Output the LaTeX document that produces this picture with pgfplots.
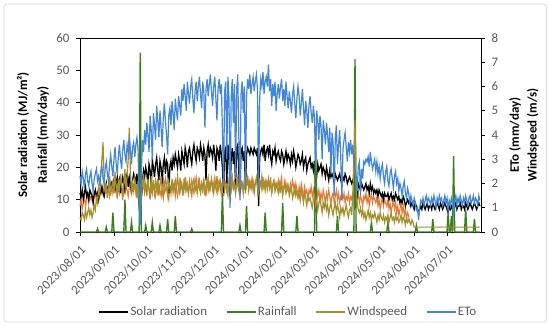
\documentclass[border=0pt]{standalone}
\usepackage{pgfplots}
\pgfplotsset{compat=1.18}
\usepackage{pgfplotstable}
\usepackage{fontspec}
\setmainfont{Carlito}
\definecolor{tickgray}{HTML}{595959}
\definecolor{rainc}{HTML}{3A7D22}
\definecolor{windc}{HTML}{A38F2B}
\definecolor{etoc}{HTML}{4286D8}
\definecolor{orangec}{HTML}{E27A35}
\definecolor{framec}{HTML}{D9D9D9}

% d = days since 2023/08/01, e = ETo (mm/day), s = solar radiation (MJ/m2),
% w = windspeed (m/s), o = unlabelled orange series, r = rainfall (mm/day)
\pgfplotstableread{
d e s w o r
0 2.3 12 0.6 8 0
1 2.0 11 0.5 10 0
2 2.5 13 0.8 7 0
3 2.2 10 0.7 9 0
4 1.8 12 0.5 11 0
5 2.4 14 0.9 8 0
6 2.6 11 0.6 10 0
7 2.1 12 0.8 12 0
8 1.9 10 1.0 9 0
9 2.3 13 0.7 11 0
10 2.5 12 0.9 10 0
11 2.0 11 0.6 12 0
12 1.7 9 0.8 9 0
13 2.2 12 1.1 11 0
14 2.4 13 0.9 13 0
15 2.6 11 1.4 10 0
16 2.1 12 1.2 12 1
17 2.3 10 1.8 14 0
18 1.9 13 1.5 11 0
19 2.5 12 2.4 13 0
20 2.7 14 3.0 12 0
21 2.2 12 3.7 14 0
22 2.0 11 2.2 11 0
23 2.6 13 1.6 13 0
24 2.9 15 2.0 15 1.5
25 2.4 12 1.4 12 0
26 2.1 14 1.8 14 0
27 2.8 16 2.3 11 0
28 3.2 13 1.5 13 0
29 2.7 15 1.9 15 0
30 2.3 14 2.1 12 6
31 3.0 16 1.6 14 0
32 3.5 13 2.5 16 0
33 2.8 15 1.8 13 0
34 2.4 17 1.4 11 0
35 3.1 14 2.2 14 0
36 3.6 16 1.7 12 0
37 3.0 12 2.4 15 0
38 2.6 15 1.9 13 0
39 3.4 17 1.5 10 0
40 3.8 15 2.0 14 0
41 3.2 13 2.6 12 10
42 2.9 16 1.7 15 0
43 3.6 18 2.3 13 0
44 3.3 14 3.0 11 0
45 3.9 17 4.3 14 0
46 3.4 15 2.5 16 0
47 2.8 12 1.6 12 3
48 3.5 16 2.0 14 0
49 3.7 18 1.7 13 0
50 3.1 17 2.2 15 0
51 3.6 15 1.8 12 0
52 3.9 18 1.4 14 0
53 3.4 13 2.1 11 0
54 1.2 8 1.2 9 0
55 0.3 5 0.8 6 55.5
56 2.5 11 1.5 10 0
57 3.8 16 2.0 13 0
58 3.3 19 2.4 15 0
59 4.2 17 1.7 12 0
60 3.6 20 2.0 14 2
61 4.5 18 1.5 12 0
62 4.0 15 2.2 15 0
63 3.3 21 1.8 13 0
64 4.8 19 1.4 10 0
65 4.2 14 2.3 14 0
66 3.0 22 1.7 12 3
67 4.9 20 2.0 16 0
68 4.4 17 1.6 13 0
69 3.8 21 2.1 11 0
70 5.2 23 1.8 14 0
71 4.6 19 2.2 12 0
72 3.9 16 1.5 15 0
73 5.0 22 1.9 13 2
74 4.3 20 2.3 11 0
75 3.5 15 1.7 14 0
76 4.7 21 1.4 16 0
77 5.3 23 2.0 12 0
78 4.6 18 2.2 13 0
79 4.0 22 1.8 15 0
80 3.2 21 1.5 12 4
81 4.8 12 2.1 10 0
82 5.1 20 1.9 14 0
83 4.4 22 1.6 13 0
84 5.4 19 2.2 15 0
85 4.9 23 1.8 12 0
86 4.2 21 2.0 14 0
87 5.5 24 1.5 16 5
88 5.0 22 1.9 13 0
89 4.6 20 2.3 11 0
90 5.6 24 1.8 14 0
91 5.2 22 1.6 16 0
92 4.8 19 2.1 13 0
93 5.9 25 1.9 15 0
94 5.4 23 1.5 12 0
95 6.1 21 2.2 14 0
96 5.6 26 1.7 17 0
97 5.0 24 2.0 13 0
98 6.2 20 1.8 15 0
99 5.7 25 1.6 12 0
100 5.3 26 2.1 15 0
101 6.0 23 1.8 13 0
102 6.3 21 1.5 16 1
103 5.5 25 2.0 14 0
104 4.9 27 2.2 12 0
105 5.8 24 1.7 15 0
106 6.2 22 1.9 17 0
107 5.4 26 1.6 13 0
108 6.0 25 2.1 14 0
109 6.4 23 1.8 16 0
110 5.7 27 1.6 13 0
111 5.1 25 2.0 15 0
112 6.2 22 1.8 12 0
113 5.8 26 2.2 16 0
114 4.3 24 1.5 14 0
115 5.9 16 1.9 11 0
116 6.3 25 2.1 15 0
117 5.6 27 1.7 17 0
118 6.1 23 2.0 13 0
119 6.5 26 1.8 15 0
120 5.8 25 2.2 16 0
121 5.2 23 1.9 13 0
122 6.0 27 1.6 15 0
123 6.4 24 2.0 17 0
124 5.5 19 1.8 14 0
125 4.6 26 2.3 12 0
126 5.9 25 1.7 15 0
127 6.3 22 1.9 16 0
128 5.7 27 2.1 13 0
129 6.1 24 1.6 15 0
130 4.2 20 1.9 14 12
131 1.9 12 2.2 11 0
132 5.8 25 1.7 16 0
133 6.2 26 2.0 15 0
134 3.0 15 1.8 12 0
135 6.4 27 1.5 16 0
136 5.5 24 2.1 14 0
137 1.0 11 1.9 10 0
138 5.6 23 1.7 15 0
139 6.3 26 2.2 17 0
140 4.5 21 1.8 13 0
141 6.1 25 2.0 16 0
142 2.2 14 1.6 12 0
143 5.9 26 2.1 15 0
144 6.5 27 1.9 17 0
145 3.8 18 1.7 14 0
146 1.3 12 2.2 11 2
147 5.7 25 1.8 16 0
148 6.2 26 2.0 15 0
149 4.9 22 1.6 13 0
150 6.0 25 2.1 16 0
151 1.8 13 1.8 12 0
152 5.6 24 1.9 15 8
153 6.3 26 2.3 17 0
154 5.9 25 1.7 14 0
155 6.5 24 2.0 16 0
156 5.7 26 1.8 15 0
157 6.1 25 2.2 13 0
158 6.4 24 1.9 16 0
159 5.8 26 1.6 14 0
160 6.2 25 2.0 15 0
161 6.5 24 2.2 17 0
162 5.9 26 1.8 14 0
163 1.7 8 1.6 10 0
164 5.5 23 2.1 16 0
165 6.3 25 1.9 15 0
166 6.0 26 2.3 13 0
167 6.6 24 1.8 17 0
168 5.7 27 2.0 14 0
169 6.2 22 1.7 16 6
170 6.4 25 2.1 15 0
171 6.0 26 1.9 13 0
172 6.9 24 2.2 16 0
173 5.8 27 1.8 14 0
174 6.3 23 2.0 17 0
175 5.2 21 1.6 12 0
176 6.1 25 1.9 15 0
177 5.6 24 2.1 16 0
178 6.2 26 1.7 13 0
179 5.0 22 2.0 15 0
180 5.7 24 1.8 14 0
181 6.1 25 1.6 16 0
182 5.5 23 2.0 13 0
183 6.0 22 1.7 15 0
184 6.3 25 1.9 17 0
185 5.4 24 1.5 12 9
186 5.9 21 1.8 14 0
187 5.2 23 2.0 16 0
188 6.2 25 1.6 13 0
189 5.6 22 1.7 15 0
190 5.1 24 1.9 14 0
191 5.8 23 1.5 12 0
192 5.4 21 1.7 15 0
193 4.9 24 1.8 13 0
194 5.7 22 1.4 16 0
195 6.0 25 1.6 14 0
196 5.3 23 1.9 12 0
197 4.7 20 1.5 15 0
198 5.5 22 1.7 13 5
199 6.0 24 1.4 11 0
200 5.6 23 1.6 14 0
201 4.8 21 1.3 12 0
202 5.3 22 1.7 15 0
203 5.9 24 1.5 13 0
204 5.1 20 1.2 11 0
205 4.4 22 1.6 14 0
206 5.4 23 1.4 12 0
207 5.0 19 1.1 13 0
208 4.3 21 1.5 10 0
209 5.2 22 1.3 13 0
210 5.6 23 1.4 12 0
211 4.9 20 1.2 14 0
212 4.5 21 1.0 11 0
213 5.2 19 1.3 13 0
214 4.7 22 1.5 10 0
215 2.8 14 1.1 12 32
216 5.0 17 1.3 14 0
217 4.6 21 0.9 11 0
218 3.8 19 1.2 13 0
219 4.8 20 1.4 10 0
220 4.4 21 1.1 12 0
221 3.0 18 0.8 10 0
222 4.6 20 1.2 13 0
223 4.2 19 1.0 11 0
224 3.6 17 1.3 9 0
225 4.5 20 0.9 12 0
226 4.0 18 1.1 10 0
227 3.3 16 0.7 13 0
228 4.3 19 1.0 11 0
229 2.4 17 1.2 9 0
230 4.1 18 0.9 11 0
231 3.7 17 0.7 12 0
232 1.5 15 1.0 9 0
233 3.9 18 1.2 11 0
234 4.4 17 0.8 13 0
235 2.8 16 1.1 10 5
236 3.6 17 0.9 12 0
237 4.2 18 0.6 9 0
238 3.1 16 1.0 11 0
239 1.3 15 0.8 12 0
240 3.4 17 1.0 10 0
241 3.8 16 0.7 12 0
242 4.1 18 0.9 9 0
243 3.5 17 1.1 11 0
244 2.9 15 0.8 10 0
245 3.7 16 0.6 12 0
246 3.3 17 0.9 9 0
247 3.8 16 1.0 11 0
248 3.2 15 0.7 10 0
249 3.6 16 1.6 12 0
250 2.8 15 3.2 11 0
251 2.4 14 4.6 9 53.5
252 2.3 12 2.0 8 0
253 1.7 11 1.2 10 0
254 2.7 15 0.9 12 0
255 2.9 14 0.8 9 0
256 1.5 13 1.0 11 0
257 2.6 15 0.7 10 0
258 2.2 14 0.9 8 0
259 2.9 13 0.6 11 0
260 2.8 14 0.8 10 0
261 3.0 15 0.5 12 0
262 2.9 13 0.7 9 0
263 3.1 14 0.9 11 0
264 2.7 12 0.6 8 0
265 3.3 15 0.8 10 0
266 2.9 13 0.5 12 3
267 2.6 14 0.7 9 0
268 2.8 12 0.6 11 0
269 3.0 13 0.8 10 0
270 2.5 12 0.6 9 0
271 2.9 13 0.4 11 0
272 2.4 11 0.7 8 0
273 2.7 13 0.5 10 0
274 2.2 12 0.8 7 0
275 2.6 11 0.6 9 0
276 2.8 12 0.5 11 0
277 2.3 10 0.7 8 0
278 2.0 12 0.4 10 0
279 2.5 11 0.6 9 0
280 2.7 11 0.5 8 0
281 2.1 12 0.7 10 3
282 1.9 10 0.4 7 0
283 2.4 11 0.6 9 0
284 2.6 12 0.8 6 0
285 2.2 10 0.5 8 0
286 1.8 11 0.6 10 0
287 2.3 10 0.4 7 0
288 2.5 12 0.7 9 0
289 2.0 11 0.5 6 0
290 2.2 10 0.6 8 0
291 1.7 11 0.4 5 0
292 2.0 9 0.5 7 0
293 1.8 10 0.7 9 0
294 1.5 9 0.4 6 0
295 1.9 11 0.6 8 0
296 2.1 10 0.5 5 0
297 1.6 8 0.3 7 0
298 1.4 9 0.6 4 0
299 1.8 10 0.4 6 0
300 1.6 9 0.5 5 0
301 1.2 10 0.4 3 0
302 1.5 8 0.3 nan 0
303 1.3 9 0.5 nan 0
304 1.1 8 0.4 nan 0
305 1.4 7 0.2 nan 0
306 1.2 9 0.2 nan 0
307 0.9 8 0.2 nan 2
308 1.0 7 0.2 nan 0
309 0.5 6 0.2 nan 0
310 1.0 7 0.2 nan 0
311 1.3 8 0.2 nan 0
312 1.2 7 0.2 nan 0
313 1.4 9 0.2 nan 0
314 1.1 8 0.2 nan 0
315 1.3 7 0.2 nan 0
316 1.5 8 0.2 nan 0
317 1.2 9 0.2 nan 0
318 1.4 7 0.2 nan 0
319 1.3 8 0.2 nan 0
320 1.1 8 0.2 nan 0
321 1.4 7 0.2 nan 0
322 1.2 9 0.2 nan 4
323 1.5 8 0.2 nan 0
324 1.3 7 0.2 nan 0
325 1.0 8 0.2 nan 0
326 1.4 9 0.2 nan 0
327 1.2 8 0.2 nan 0
328 1.5 7 0.2 nan 0
329 1.3 9 0.2 nan 0
330 1.4 8 0.2 nan 0
331 1.1 7 0.2 nan 0
332 1.3 8 0.2 nan 0
333 1.5 9 0.2 nan 0
334 1.2 8 0.2 nan 0
335 1.4 7 0.2 nan 0
336 0.9 6 0.2 nan 6
337 1.3 8 0.2 nan 0
338 1.1 7 0.2 nan 0
339 1.4 8 0.2 nan 5
340 1.2 7 0.2 nan 0
341 0.8 6 0.2 nan 23.5
342 1.3 8 0.2 nan 0
343 1.5 9 0.2 nan 0
344 1.1 7 0.2 nan 0
345 1.4 8 0.2 nan 0
346 1.2 8 0.2 nan 0
347 1.5 9 0.2 nan 0
348 1.3 7 0.2 nan 0
349 1.1 8 0.2 nan 0
350 1.4 8 0.2 nan 0
351 1.2 7 0.2 nan 0
352 1.5 9 0.2 nan 7
353 1.3 8 0.2 nan 0
354 1.1 7 0.2 nan 0
355 1.4 8 0.2 nan 0
356 1.5 9 0.2 nan 0
357 1.2 8 0.2 nan 0
358 1.3 7 0.2 nan 0
359 1.5 8 0.2 nan 0
360 1.2 9 0.2 nan 4
361 1.4 8 0.2 nan 0
362 1.3 7 0.2 nan 0
363 1.1 8 0.2 nan 0
364 1.5 9 0.2 nan 0
365 1.3 8 0.2 nan 0
}\datatab

\pgfplotsset{
  common/.style={
    at={(80bp,94bp)}, anchor=south west,
    width=401bp, height=194bp, scale only axis,
    xmin=0, xmax=366,
    tick align=outside,
    major tick length=4bp,
    tick style={black, line width=0.6bp},
    axis line style={black, line width=0.8bp},
    ticklabel style={font=\fontsize{13}{15}\selectfont, text=tickgray},
    /pgf/number format/assume math mode=true,
    clip=false,
  },
}

\begin{document}
\begin{tikzpicture}
\path[use as bounding box] (0,0) rectangle (550bp,326bp);
\draw[framec, line width=0.8bp, rounded corners=3bp] (4bp,4bp) rectangle (546.5bp,322bp);

\begin{axis}[common,
  ymin=0, ymax=60,
  ytick={0,10,...,60},
  xtick={0,31,61,92,122,153,184,213,244,274,305,335},
  xticklabels={2023/08/01,2023/09/01,2023/10/01,2023/11/01,2023/12/01,2024/01/01,2024/02/01,2024/03/01,2024/04/01,2024/05/01,2024/06/01,2024/07/01},
  xtick pos=bottom, ytick pos=left,
  xticklabel style={rotate=45, anchor=north east, inner sep=1bp},
  xticklabel shift=7bp,
  yticklabel style={xshift=-3bp},
  ylabel={Solar radiation (MJ/m²)\\Rainfall (mm/day)},
  ylabel style={at={(axis description cs:-0.1172,0.5)}, anchor=center, align=center, font=\bfseries\fontsize{13}{20}\selectfont},
]
\addplot[orangec, line width=1.1bp, forget plot] table[x=d, y=o] {\datatab};
\addplot[black, line width=1.3bp, forget plot] table[x=d, y=s] {\datatab};
\addplot[rainc, line width=1.4bp, forget plot] table[x=d, y=r] {\datatab};
\end{axis}

\begin{axis}[common,
  ymin=0, ymax=8,
  ytick={0,1,...,8},
  axis y line*=right, axis x line=none,
  yticklabel style={xshift=3bp},
  ylabel={ETo (mm/day)\\Windspeed (m/s)},
  ylabel style={at={(axis description cs:1.1072,0.5)}, anchor=center, align=center, font=\bfseries\fontsize{13}{18}\selectfont},
  legend columns=4,
  legend style={at={(axis description cs:0.5187,-0.412)}, anchor=center, draw=none, fill=none,
    font=\fontsize{13}{15}\selectfont, text=tickgray,
    nodes={inner sep=1.5bp},
    /tikz/every even column/.append style={column sep=17bp}},
  legend image code/.code={\draw[#1, line width=1.8bp] (0bp,0bp) -- (29bp,0bp);},
]
\addlegendimage{black}
\addlegendentry{Solar radiation}
\addlegendimage{rainc}
\addlegendentry{Rainfall}
\addplot[windc, line width=1.2bp] table[x=d, y=w] {\datatab};
\addlegendentry{Windspeed}
\addplot[etoc, line width=1.2bp] table[x=d, y=e] {\datatab};
\addlegendentry{ETo}
\end{axis}
\end{tikzpicture}
\end{document}
